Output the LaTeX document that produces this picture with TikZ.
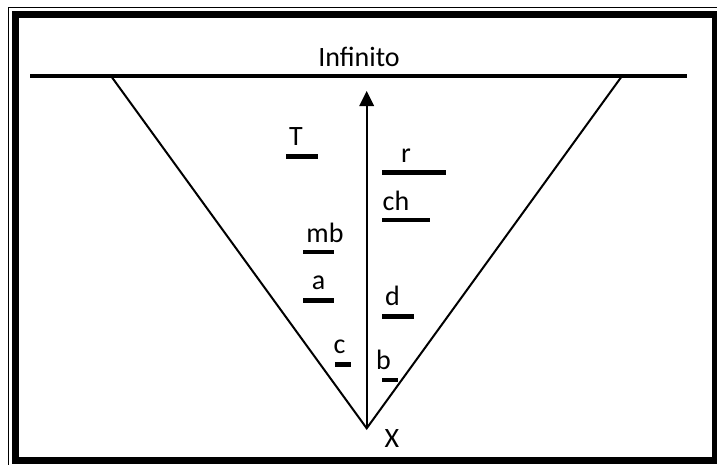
\documentclass[tikz,border=0pt]{standalone}
\usepackage{fontspec}
\setmainfont{Carlito}
\usetikzlibrary{arrows.meta}
\begin{document}
\begin{tikzpicture}[x=1pt,y=-1pt,
  lbl/.style={anchor=base,inner sep=0pt,font=\fontsize{28}{32}\selectfont},
  bar/.style={line width=4.5pt},
  thin/.style={line width=2pt}]
\useasboundingbox (0,0) rectangle (717,464);
\clip (0,0) rectangle (717,464);
% frame
\draw[line width=1.5pt] (8.5,470) -- (8.5,7.5) -- (730,7.5);
\draw[line width=6.5pt] (15.3,14.3) rectangle (715.3,460.5);
% horizon
\coordinate (hl) at (30,76);
\coordinate (hr) at (687,76);
\draw[line width=4.5pt] (hl) -- (hr);
\node[lbl] (inf) at (359,66) {Infinito};
% V
\coordinate (apex) at (366.7,428.3);
\coordinate (vl) at (111,76);
\coordinate (vr) at (622,76);
\draw[thin] (vl) -- (apex) -- (vr);
% arrow
\coordinate (top) at (366.7,91);
\draw[thin,-{Triangle[length=15pt,width=14.5pt]}] (apex) -- (top);
\node[lbl] (x) at (392,447) {X};
% labels and bars
\node[lbl] (T) at (296,145) {T};
\draw[bar] (286,156.5) -- (318,156.5);
\node[lbl] (r) at (406,162) {r};
\draw[bar] (382,172.3) -- (446,172.3);
\node[lbl] (ch) at (396,210) {ch};
\draw[bar] (382,220) -- (430,220);
\node[lbl] (mb) at (325,242) {mb};
\draw[bar] (303,252) -- (334,252);
\node[lbl] (a) at (318.5,289) {a};
\draw[bar] (303,300.5) -- (334,300.5);
\node[lbl] (d) at (392.5,305) {d};
\draw[bar] (382.3,316.7) -- (414.3,316.7);
\node[lbl] (c) at (339.5,353) {c};
\draw[bar] (335,364.5) -- (350.7,364.5);
\node[lbl] (b) at (383.5,369) {b};
\draw[bar] (382.3,380) -- (398.3,380);
\end{tikzpicture}
\end{document}
